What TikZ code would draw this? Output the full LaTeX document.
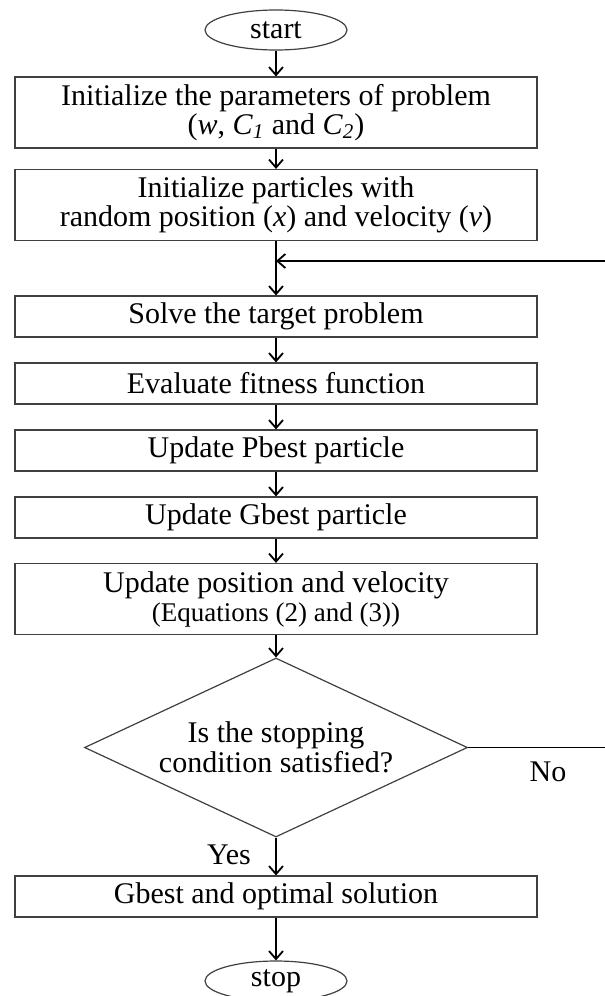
\documentclass[tikz,border=0pt]{standalone}
\usepackage{fontspec}
\setmainfont{Liberation Serif}
\usetikzlibrary{shapes.geometric,arrows.meta}
\tikzset{
  box/.style={draw=black!75,line width=0.6pt,minimum width=261pt,minimum height=20.5pt,inner sep=0pt,align=center,font=\fontsize{15}{14.5}\selectfont},
  tall/.style={minimum height=35.5pt},
  term/.style={ellipse,draw=black!75,line width=0.6pt,minimum width=71pt,minimum height=20pt,inner sep=0pt,font=\fontsize{15}{15}\selectfont},
  decide/.style={diamond,aspect=2.14,draw=black!75,line width=0.6pt,minimum width=191.5pt,minimum height=89.5pt,inner sep=0pt,align=center,font=\fontsize{15}{15}\selectfont},
  flow/.style={-{Straight Barb[length=4pt,width=7pt]},line width=0.9pt},
}
\begin{document}
\begin{tikzpicture}[x=0.5pt,y=-0.5pt]
  \clip(0,0) rectangle (605,996);
  \node[term](start) at (276,30){start};
  \node[box,tall](init) at (276,112.5){Initialize the parameters of problem\\(\textit{w}, \textit{C}\textsubscript{\textit{1}} and \textit{C}\textsubscript{\textit{2}})};
  \node[box,tall](part) at (276,205){Initialize particles with\\random position (\textit{x}) and velocity (\textit{v})};
  \coordinate(join) at (276,261);
  \coordinate(back) at (605,261);
  \node[box](solve) at (276,316.5){Solve the target problem};
  \node[box](fit) at (276,383.5){Evaluate fitness function};
  \node[box](pbest) at (276,450.5){Update Pbest particle};
  \node[box](gbest) at (276,517.5){Update Gbest particle};
  \node[box,tall](upd) at (276,599){Update position and velocity\\{\fontsize{13.5}{13.5}\selectfont(Equations (2) and (3))}};
  \node[decide](check) at (276,747.5){Is the stopping\\condition satisfied?};
  \coordinate(out) at (605,747.5);
  \node[font=\fontsize{15}{15}\selectfont](no) at (548,772){No};
  \node[font=\fontsize{15}{15}\selectfont](yes) at (229,855){Yes};
  \node[box](best) at (276,896.5){Gbest and optimal solution};
  \node[term](stop) at (276,981){stop};
  \draw[flow](start)--(init);
  \draw[flow](init)--(part);
  \draw[flow](part)--(solve);
  \draw[flow](back)--(join);
  \draw[flow](solve)--(fit);
  \draw[flow](fit)--(pbest);
  \draw[flow](pbest)--(gbest);
  \draw[flow](gbest)--(upd);
  \draw[flow](upd)--(check);
  \draw[line width=0.6pt](check.east)--(out);
  \draw[flow](check)--(best);
  \draw[flow](best)--(stop);
\end{tikzpicture}
\end{document}
